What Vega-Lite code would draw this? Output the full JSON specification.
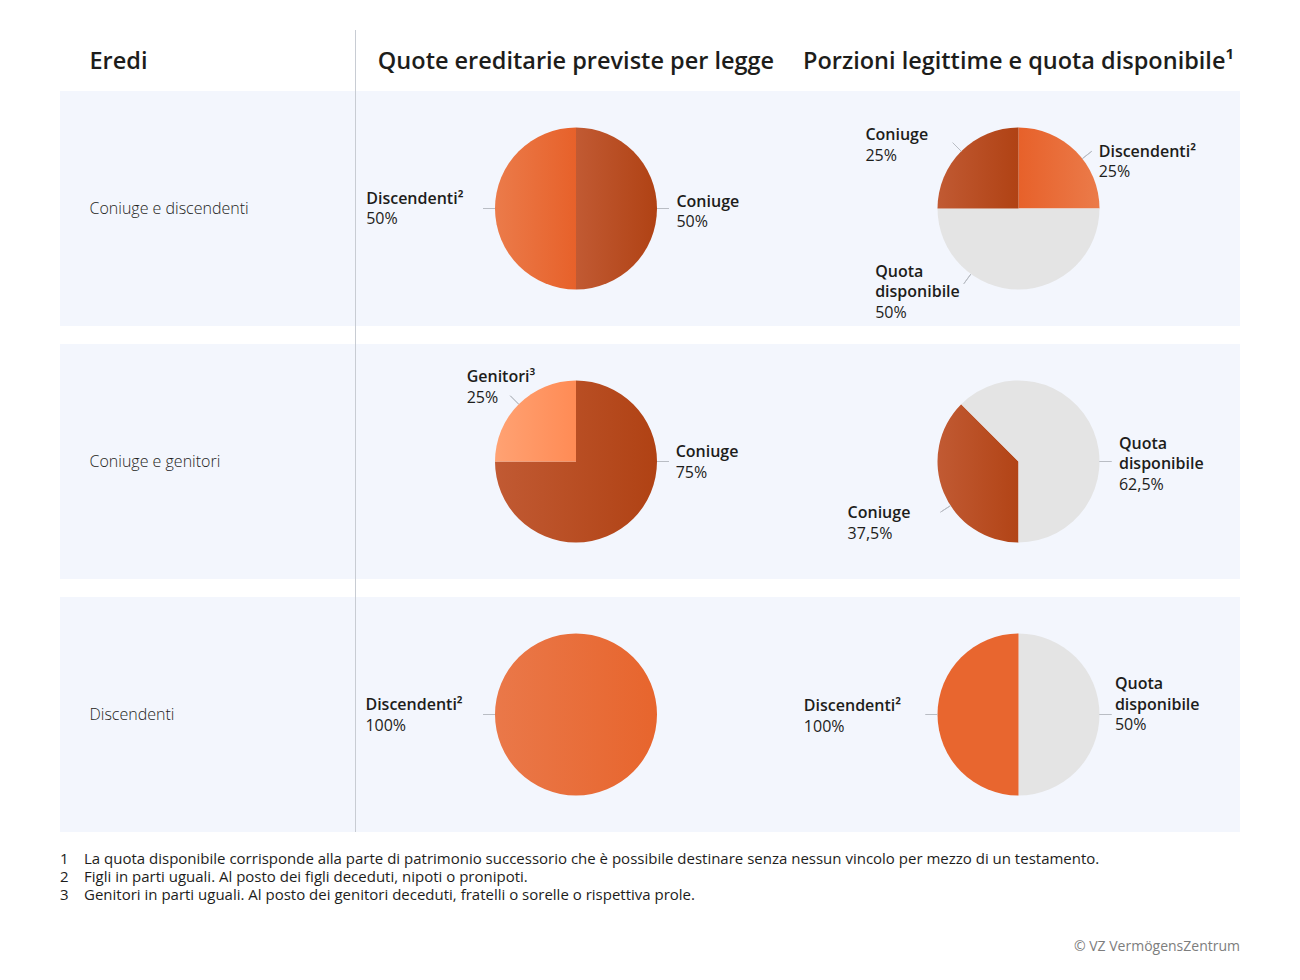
{
  "$schema": "https://vega.github.io/schema/vega-lite/v6.json",
  "background": "white",
  "padding": {"left": 60, "top": 30, "right": 60, "bottom": 0},
  "config": {"view": {"stroke": null}, "font": "Open Sans", "text": {"font": "Open Sans", "color": "#1d1d1b"}},
  "datasets": {
    "titles": [
      {"col": "eredi", "title": "Eredi"},
      {"col": "legge", "title": "Quote ereditarie previste per legge"},
      {"col": "legittime", "title": "Porzioni legittime e quota disponibile¹"}
    ],
    "heirs": [
      {"row": 1, "label": "Coniuge e discendenti"},
      {"row": 2, "label": "Coniuge e genitori"},
      {"row": 3, "label": "Discendenti"}
    ],
    "slices": [
      {"row": 1, "panel": "legge", "heir": "Coniuge", "value": 50},
      {"row": 1, "panel": "legge", "heir": "Discendenti", "value": 50},
      {"row": 1, "panel": "legittime", "heir": "Discendenti", "value": 25},
      {"row": 1, "panel": "legittime", "heir": "Quota disponibile", "value": 50},
      {"row": 1, "panel": "legittime", "heir": "Coniuge", "value": 25},
      {"row": 2, "panel": "legge", "heir": "Coniuge", "value": 75},
      {"row": 2, "panel": "legge", "heir": "Genitori", "value": 25},
      {"row": 2, "panel": "legittime", "heir": "Coniuge", "value": 37.5},
      {"row": 2, "panel": "legittime", "heir": "Quota disponibile", "value": 62.5},
      {"row": 3, "panel": "legge", "heir": "Discendenti", "value": 100},
      {"row": 3, "panel": "legittime", "heir": "Quota disponibile", "value": 50},
      {"row": 3, "panel": "legittime", "heir": "Discendenti", "value": 50}
    ],
    "labels": [
      {"row": 1, "panel": "legge", "name": "Discendenti²", "pct": "50%", "angle": 270, "lx": -2.59, "ly": -0.06},
      {"row": 1, "panel": "legge", "name": "Coniuge", "pct": "50%", "angle": 90, "lx": 1.24, "ly": -0.02},
      {"row": 1, "panel": "legittime", "name": "Coniuge", "pct": "25%", "angle": 315, "lx": -1.89, "ly": -0.84},
      {"row": 1, "panel": "legittime", "name": "Discendenti²", "pct": "25%", "angle": 52, "lx": 0.99, "ly": -0.64},
      {"row": 1, "panel": "legittime", "name": "Quota|disponibile", "pct": "50%", "angle": 216, "lx": -1.77, "ly": 0.84},
      {"row": 2, "panel": "legge", "name": "Genitori³", "pct": "25%", "angle": 315, "lx": -1.35, "ly": -0.98},
      {"row": 2, "panel": "legge", "name": "Coniuge", "pct": "75%", "angle": 90, "lx": 1.23, "ly": -0.05},
      {"row": 2, "panel": "legittime", "name": "Quota|disponibile", "pct": "62,5%", "angle": 90, "lx": 1.24, "ly": -0.16},
      {"row": 2, "panel": "legittime", "name": "Coniuge", "pct": "37,5%", "angle": 237, "lx": -2.11, "ly": 0.7},
      {"row": 3, "panel": "legge", "name": "Discendenti²", "pct": "100%", "angle": 270, "lx": -2.6, "ly": -0.05},
      {"row": 3, "panel": "legittime", "name": "Discendenti²", "pct": "100%", "angle": 270, "lx": -2.65, "ly": -0.04},
      {"row": 3, "panel": "legittime", "name": "Quota|disponibile", "pct": "50%", "angle": 90, "lx": 1.19, "ly": -0.31}
    ],
    "footnotes": [
      {"num": 1, "text": "La quota disponibile corrisponde alla parte di patrimonio successorio che è possibile destinare senza nessun vincolo per mezzo di un testamento."},
      {"num": 2, "text": "Figli in parti uguali. Al posto dei figli deceduti, nipoti o pronipoti."},
      {"num": 3, "text": "Genitori in parti uguali. Al posto dei genitori deceduti, fratelli o sorelle o rispettiva prole."}
    ]
  },
  "spacing": 0,
  "vconcat": [
    {
      "spacing": 0,
      "hconcat": [
        {
          "width": 295, "height": 61,
          "data": {"name": "titles"},
          "transform": [{"filter": "datum.col === 'eredi'"}],
          "mark": {"type": "text", "align": "left", "baseline": "middle", "fontSize": 23.5, "fontWeight": 600},
          "encoding": {
            "x": {"datum": 0.1, "type": "quantitative", "scale": {"domain": [0, 1], "nice": false}, "axis": null},
            "y": {"datum": 0.47, "type": "quantitative", "scale": {"domain": [0, 1], "nice": false}, "axis": null},
            "text": {"field": "title"}
          }
        },
        {
          "width": 442, "height": 61,
          "layer": [
            {
              "data": {"name": "titles"},
              "transform": [{"filter": "datum.col === 'legge'"}],
              "mark": {"type": "text", "align": "center", "baseline": "middle", "fontSize": 23.5, "fontWeight": 600},
              "encoding": {
                "x": {"datum": 0.5, "type": "quantitative", "scale": {"domain": [0, 1], "nice": false}, "axis": null},
                "y": {"datum": 0.47, "type": "quantitative", "scale": {"domain": [0, 1], "nice": false}, "axis": null},
                "text": {"field": "title"}
              }
            },
            {
              "data": {"values": [{}]},
              "mark": {"type": "rect", "color": "#c8ccd3"},
              "encoding": {
                "x": {"datum": 0, "type": "quantitative", "scale": {"domain": [0, 1], "nice": false}, "axis": null},
                "x2": {"datum": 0.00226},
                "y": {"datum": 0, "type": "quantitative", "scale": {"domain": [0, 1], "nice": false}, "axis": null},
                "y2": {"datum": 1}
              }
            }
          ]
        },
        {
          "width": 443, "height": 61,
          "data": {"name": "titles"},
          "transform": [{"filter": "datum.col === 'legittime'"}],
          "mark": {"type": "text", "align": "center", "baseline": "middle", "fontSize": 23.5, "fontWeight": 600},
          "encoding": {
            "x": {"datum": 0.5, "type": "quantitative", "scale": {"domain": [0, 1], "nice": false}, "axis": null},
            "y": {"datum": 0.47, "type": "quantitative", "scale": {"domain": [0, 1], "nice": false}, "axis": null},
            "text": {"field": "title"}
          }
        }
      ]
    },
    {
      "spacing": 0,
      "hconcat": [
        {
          "width": 295, "height": 235,
          "view": {"fill": "#f3f6fd", "stroke": null},
          "data": {"name": "heirs"},
          "transform": [{"filter": "datum.row === 1"}],
          "mark": {"type": "text", "align": "left", "baseline": "middle", "fontSize": 16, "fontWeight": 300},
          "encoding": {
            "x": {"datum": 0.1, "type": "quantitative", "scale": {"domain": [0, 1], "nice": false}, "axis": null},
            "y": {"datum": 0.5, "type": "quantitative", "scale": {"domain": [0, 1], "nice": false}, "axis": null},
            "text": {"field": "label"}
          }
        },
        {
          "width": 442, "height": 235,
          "view": {"fill": "#f3f6fd", "stroke": null},
          "resolve": {"scale": {"theta": "independent"}},
          "layer": [
            {
              "data": {"name": "slices"},
              "transform": [{"filter": "datum.row === 1 && datum.panel === 'legge'"}],
              "mark": {"type": "arc", "outerRadius": 81},
              "encoding": {
                "theta": {"field": "value", "type": "quantitative", "stack": true, "scale": {"domain": [0, 100], "range": [0, 6.283185]}},
                "color": {
                  "condition": [
                    {"test": "datum.heir === 'Coniuge'", "value": {"gradient": "linear", "x1": 0, "y1": 0, "x2": 1, "y2": 0, "stops": [{"offset": 0, "color": "#c15a33"}, {"offset": 1, "color": "#b04214"}]}},
                    {"test": "datum.heir === 'Discendenti'", "value": {"gradient": "linear", "x1": 0, "y1": 0, "x2": 1, "y2": 0, "stops": [{"offset": 0, "color": "#eb7b4a"}, {"offset": 1, "color": "#e7612a"}]}}
                  ],
                  "value": "#e4e4e4"
                }
              }
            },
            {
              "data": {"name": "labels"},
              "transform": [{"filter": "datum.row === 1 && datum.panel === 'legge'"}],
              "mark": {"type": "arc", "innerRadius": 81, "outerRadius": 93, "filled": false, "color": "#b9bdc4", "strokeWidth": 1},
              "encoding": {
                "theta": {"field": "angle", "type": "quantitative", "scale": {"domain": [0, 360], "range": [0, 6.283185]}},
                "theta2": {"field": "angle"}
              }
            },
            {
              "data": {"name": "labels"},
              "transform": [{"filter": "datum.row === 1 && datum.panel === 'legge'"}],
              "mark": {"type": "text", "align": "left", "baseline": "alphabetic", "fontSize": 16, "fontWeight": 600, "lineBreak": "|", "lineHeight": 20.5},
              "encoding": {
                "x": {"field": "lx", "type": "quantitative", "scale": {"domain": [-2.7284, 2.7284], "nice": false, "zero": false}, "axis": null},
                "y": {"field": "ly", "type": "quantitative", "scale": {"domain": [-1.4506, 1.4506], "nice": false, "zero": false, "reverse": true}, "axis": null},
                "text": {"field": "name"}
              }
            },
            {
              "data": {"name": "labels"},
              "transform": [{"filter": "datum.row === 1 && datum.panel === 'legge'"}],
              "mark": {"type": "text", "align": "left", "baseline": "alphabetic", "fontSize": 16, "fontWeight": 400, "dy": 20.5},
              "encoding": {
                "x": {"field": "lx", "type": "quantitative", "scale": {"domain": [-2.7284, 2.7284], "nice": false, "zero": false}, "axis": null},
                "y": {"field": "ly", "type": "quantitative", "scale": {"domain": [-1.4506, 1.4506], "nice": false, "zero": false, "reverse": true}, "axis": null},
                "text": {"field": "pct"}
              }
            },
            {
              "data": {"values": [{}]},
              "mark": {"type": "rect", "color": "#c8ccd3"},
              "encoding": {
                "x": {"datum": -2.7284, "type": "quantitative", "scale": {"domain": [-2.7284, 2.7284], "nice": false, "zero": false}, "axis": null},
                "x2": {"datum": -2.7161},
                "y": {"datum": -1.4506, "type": "quantitative", "scale": {"domain": [-1.4506, 1.4506], "nice": false, "zero": false, "reverse": true}, "axis": null},
                "y2": {"datum": 1.4506}
              }
            }
          ]
        },
        {
          "width": 443, "height": 235,
          "view": {"fill": "#f3f6fd", "stroke": null},
          "resolve": {"scale": {"theta": "independent"}},
          "layer": [
            {
              "data": {"name": "slices"},
              "transform": [{"filter": "datum.row === 1 && datum.panel === 'legittime'"}],
              "mark": {"type": "arc", "outerRadius": 81},
              "encoding": {
                "theta": {"field": "value", "type": "quantitative", "stack": true, "scale": {"domain": [0, 100], "range": [0, 6.283185]}},
                "color": {
                  "condition": [
                    {"test": "datum.heir === 'Coniuge'", "value": {"gradient": "linear", "x1": 0, "y1": 0, "x2": 1, "y2": 0, "stops": [{"offset": 0, "color": "#c15a33"}, {"offset": 1, "color": "#b04214"}]}},
                    {"test": "datum.heir === 'Discendenti'", "value": {"gradient": "linear", "x1": 0, "y1": 0, "x2": 1, "y2": 0, "stops": [{"offset": 0, "color": "#e7612a"}, {"offset": 1, "color": "#eb7b4a"}]}}
                  ],
                  "value": "#e4e4e4"
                }
              }
            },
            {
              "data": {"name": "labels"},
              "transform": [{"filter": "datum.row === 1 && datum.panel === 'legittime'"}],
              "mark": {"type": "arc", "innerRadius": 81, "outerRadius": 93, "filled": false, "color": "#b9bdc4", "strokeWidth": 1},
              "encoding": {
                "theta": {"field": "angle", "type": "quantitative", "scale": {"domain": [0, 360], "range": [0, 6.283185]}},
                "theta2": {"field": "angle"}
              }
            },
            {
              "data": {"name": "labels"},
              "transform": [{"filter": "datum.row === 1 && datum.panel === 'legittime'"}],
              "mark": {"type": "text", "align": "left", "baseline": "alphabetic", "fontSize": 16, "fontWeight": 600, "lineBreak": "|", "lineHeight": 20.5},
              "encoding": {
                "x": {"field": "lx", "type": "quantitative", "scale": {"domain": [-2.7346, 2.7346], "nice": false, "zero": false}, "axis": null},
                "y": {"field": "ly", "type": "quantitative", "scale": {"domain": [-1.4506, 1.4506], "nice": false, "zero": false, "reverse": true}, "axis": null},
                "text": {"field": "name"}
              }
            },
            {
              "data": {"name": "labels"},
              "transform": [{"filter": "datum.row === 1 && datum.panel === 'legittime' && indexof(datum.name, '|') < 0"}],
              "mark": {"type": "text", "align": "left", "baseline": "alphabetic", "fontSize": 16, "fontWeight": 400, "dy": 20.5},
              "encoding": {
                "x": {"field": "lx", "type": "quantitative", "scale": {"domain": [-2.7346, 2.7346], "nice": false, "zero": false}, "axis": null},
                "y": {"field": "ly", "type": "quantitative", "scale": {"domain": [-1.4506, 1.4506], "nice": false, "zero": false, "reverse": true}, "axis": null},
                "text": {"field": "pct"}
              }
            },
            {
              "data": {"name": "labels"},
              "transform": [{"filter": "datum.row === 1 && datum.panel === 'legittime' && indexof(datum.name, '|') >= 0"}],
              "mark": {"type": "text", "align": "left", "baseline": "alphabetic", "fontSize": 16, "fontWeight": 400, "dy": 41},
              "encoding": {
                "x": {"field": "lx", "type": "quantitative", "scale": {"domain": [-2.7346, 2.7346], "nice": false, "zero": false}, "axis": null},
                "y": {"field": "ly", "type": "quantitative", "scale": {"domain": [-1.4506, 1.4506], "nice": false, "zero": false, "reverse": true}, "axis": null},
                "text": {"field": "pct"}
              }
            }
          ]
        }
      ]
    },
    {
      "width": 1180, "height": 18,
      "data": {"values": [{}]},
      "mark": {"type": "rect", "color": "#c8ccd3"},
      "encoding": {
        "x": {"datum": 0.25, "type": "quantitative", "scale": {"domain": [0, 1], "nice": false}, "axis": null},
        "x2": {"datum": 0.250847},
        "y": {"datum": 0, "type": "quantitative", "scale": {"domain": [0, 1], "nice": false}, "axis": null},
        "y2": {"datum": 1}
      }
    },
    {
      "spacing": 0,
      "hconcat": [
        {
          "width": 295, "height": 235,
          "view": {"fill": "#f3f6fd", "stroke": null},
          "data": {"name": "heirs"},
          "transform": [{"filter": "datum.row === 2"}],
          "mark": {"type": "text", "align": "left", "baseline": "middle", "fontSize": 16, "fontWeight": 300},
          "encoding": {
            "x": {"datum": 0.1, "type": "quantitative", "scale": {"domain": [0, 1], "nice": false}, "axis": null},
            "y": {"datum": 0.5, "type": "quantitative", "scale": {"domain": [0, 1], "nice": false}, "axis": null},
            "text": {"field": "label"}
          }
        },
        {
          "width": 442, "height": 235,
          "view": {"fill": "#f3f6fd", "stroke": null},
          "resolve": {"scale": {"theta": "independent"}},
          "layer": [
            {
              "data": {"name": "slices"},
              "transform": [{"filter": "datum.row === 2 && datum.panel === 'legge'"}],
              "mark": {"type": "arc", "outerRadius": 81},
              "encoding": {
                "theta": {"field": "value", "type": "quantitative", "stack": true, "scale": {"domain": [0, 100], "range": [0, 6.283185]}},
                "color": {
                  "condition": [
                    {"test": "datum.heir === 'Coniuge'", "value": {"gradient": "linear", "x1": 0, "y1": 0, "x2": 1, "y2": 0, "stops": [{"offset": 0, "color": "#c15a33"}, {"offset": 1, "color": "#b04214"}]}},
                    {"test": "datum.heir === 'Genitori'", "value": {"gradient": "linear", "x1": 0, "y1": 0, "x2": 1, "y2": 0, "stops": [{"offset": 0, "color": "#ffa273"}, {"offset": 1, "color": "#ff8b55"}]}}
                  ],
                  "value": "#e4e4e4"
                }
              }
            },
            {
              "data": {"name": "labels"},
              "transform": [{"filter": "datum.row === 2 && datum.panel === 'legge'"}],
              "mark": {"type": "arc", "innerRadius": 81, "outerRadius": 93, "filled": false, "color": "#b9bdc4", "strokeWidth": 1},
              "encoding": {
                "theta": {"field": "angle", "type": "quantitative", "scale": {"domain": [0, 360], "range": [0, 6.283185]}},
                "theta2": {"field": "angle"}
              }
            },
            {
              "data": {"name": "labels"},
              "transform": [{"filter": "datum.row === 2 && datum.panel === 'legge'"}],
              "mark": {"type": "text", "align": "left", "baseline": "alphabetic", "fontSize": 16, "fontWeight": 600, "lineBreak": "|", "lineHeight": 20.5},
              "encoding": {
                "x": {"field": "lx", "type": "quantitative", "scale": {"domain": [-2.7284, 2.7284], "nice": false, "zero": false}, "axis": null},
                "y": {"field": "ly", "type": "quantitative", "scale": {"domain": [-1.4506, 1.4506], "nice": false, "zero": false, "reverse": true}, "axis": null},
                "text": {"field": "name"}
              }
            },
            {
              "data": {"name": "labels"},
              "transform": [{"filter": "datum.row === 2 && datum.panel === 'legge'"}],
              "mark": {"type": "text", "align": "left", "baseline": "alphabetic", "fontSize": 16, "fontWeight": 400, "dy": 20.5},
              "encoding": {
                "x": {"field": "lx", "type": "quantitative", "scale": {"domain": [-2.7284, 2.7284], "nice": false, "zero": false}, "axis": null},
                "y": {"field": "ly", "type": "quantitative", "scale": {"domain": [-1.4506, 1.4506], "nice": false, "zero": false, "reverse": true}, "axis": null},
                "text": {"field": "pct"}
              }
            },
            {
              "data": {"values": [{}]},
              "mark": {"type": "rect", "color": "#c8ccd3"},
              "encoding": {
                "x": {"datum": -2.7284, "type": "quantitative", "scale": {"domain": [-2.7284, 2.7284], "nice": false, "zero": false}, "axis": null},
                "x2": {"datum": -2.7161},
                "y": {"datum": -1.4506, "type": "quantitative", "scale": {"domain": [-1.4506, 1.4506], "nice": false, "zero": false, "reverse": true}, "axis": null},
                "y2": {"datum": 1.4506}
              }
            }
          ]
        },
        {
          "width": 443, "height": 235,
          "view": {"fill": "#f3f6fd", "stroke": null},
          "resolve": {"scale": {"theta": "independent"}},
          "layer": [
            {
              "data": {"name": "slices"},
              "transform": [{"filter": "datum.row === 2 && datum.panel === 'legittime'"}],
              "mark": {"type": "arc", "outerRadius": 81},
              "encoding": {
                "theta": {"field": "value", "type": "quantitative", "stack": true, "scale": {"domain": [0, 100], "range": [3.141593, 9.424778]}},
                "color": {
                  "condition": [
                    {"test": "datum.heir === 'Coniuge'", "value": {"gradient": "linear", "x1": 0, "y1": 0, "x2": 1, "y2": 0, "stops": [{"offset": 0, "color": "#c15a33"}, {"offset": 1, "color": "#b24416"}]}}
                  ],
                  "value": "#e4e4e4"
                }
              }
            },
            {
              "data": {"name": "labels"},
              "transform": [{"filter": "datum.row === 2 && datum.panel === 'legittime'"}],
              "mark": {"type": "arc", "innerRadius": 81, "outerRadius": 93, "filled": false, "color": "#b9bdc4", "strokeWidth": 1},
              "encoding": {
                "theta": {"field": "angle", "type": "quantitative", "scale": {"domain": [0, 360], "range": [0, 6.283185]}},
                "theta2": {"field": "angle"}
              }
            },
            {
              "data": {"name": "labels"},
              "transform": [{"filter": "datum.row === 2 && datum.panel === 'legittime'"}],
              "mark": {"type": "text", "align": "left", "baseline": "alphabetic", "fontSize": 16, "fontWeight": 600, "lineBreak": "|", "lineHeight": 20.5},
              "encoding": {
                "x": {"field": "lx", "type": "quantitative", "scale": {"domain": [-2.7346, 2.7346], "nice": false, "zero": false}, "axis": null},
                "y": {"field": "ly", "type": "quantitative", "scale": {"domain": [-1.4506, 1.4506], "nice": false, "zero": false, "reverse": true}, "axis": null},
                "text": {"field": "name"}
              }
            },
            {
              "data": {"name": "labels"},
              "transform": [{"filter": "datum.row === 2 && datum.panel === 'legittime' && indexof(datum.name, '|') < 0"}],
              "mark": {"type": "text", "align": "left", "baseline": "alphabetic", "fontSize": 16, "fontWeight": 400, "dy": 20.5},
              "encoding": {
                "x": {"field": "lx", "type": "quantitative", "scale": {"domain": [-2.7346, 2.7346], "nice": false, "zero": false}, "axis": null},
                "y": {"field": "ly", "type": "quantitative", "scale": {"domain": [-1.4506, 1.4506], "nice": false, "zero": false, "reverse": true}, "axis": null},
                "text": {"field": "pct"}
              }
            },
            {
              "data": {"name": "labels"},
              "transform": [{"filter": "datum.row === 2 && datum.panel === 'legittime' && indexof(datum.name, '|') >= 0"}],
              "mark": {"type": "text", "align": "left", "baseline": "alphabetic", "fontSize": 16, "fontWeight": 400, "dy": 41},
              "encoding": {
                "x": {"field": "lx", "type": "quantitative", "scale": {"domain": [-2.7346, 2.7346], "nice": false, "zero": false}, "axis": null},
                "y": {"field": "ly", "type": "quantitative", "scale": {"domain": [-1.4506, 1.4506], "nice": false, "zero": false, "reverse": true}, "axis": null},
                "text": {"field": "pct"}
              }
            }
          ]
        }
      ]
    },
    {
      "width": 1180, "height": 18,
      "data": {"values": [{}]},
      "mark": {"type": "rect", "color": "#c8ccd3"},
      "encoding": {
        "x": {"datum": 0.25, "type": "quantitative", "scale": {"domain": [0, 1], "nice": false}, "axis": null},
        "x2": {"datum": 0.250847},
        "y": {"datum": 0, "type": "quantitative", "scale": {"domain": [0, 1], "nice": false}, "axis": null},
        "y2": {"datum": 1}
      }
    },
    {
      "spacing": 0,
      "hconcat": [
        {
          "width": 295, "height": 235,
          "view": {"fill": "#f3f6fd", "stroke": null},
          "data": {"name": "heirs"},
          "transform": [{"filter": "datum.row === 3"}],
          "mark": {"type": "text", "align": "left", "baseline": "middle", "fontSize": 16, "fontWeight": 300},
          "encoding": {
            "x": {"datum": 0.1, "type": "quantitative", "scale": {"domain": [0, 1], "nice": false}, "axis": null},
            "y": {"datum": 0.5, "type": "quantitative", "scale": {"domain": [0, 1], "nice": false}, "axis": null},
            "text": {"field": "label"}
          }
        },
        {
          "width": 442, "height": 235,
          "view": {"fill": "#f3f6fd", "stroke": null},
          "resolve": {"scale": {"theta": "independent"}},
          "layer": [
            {
              "data": {"name": "slices"},
              "transform": [{"filter": "datum.row === 3 && datum.panel === 'legge'"}],
              "mark": {"type": "arc", "outerRadius": 81},
              "encoding": {
                "theta": {"field": "value", "type": "quantitative", "stack": true, "scale": {"domain": [0, 100], "range": [0, 6.283185]}},
                "color": {
                  "condition": [
                    {"test": "datum.heir === 'Discendenti'", "value": {"gradient": "linear", "x1": 0, "y1": 0, "x2": 1, "y2": 0, "stops": [{"offset": 0, "color": "#ea7849"}, {"offset": 1, "color": "#e7652d"}]}}
                  ],
                  "value": "#e4e4e4"
                }
              }
            },
            {
              "data": {"name": "labels"},
              "transform": [{"filter": "datum.row === 3 && datum.panel === 'legge'"}],
              "mark": {"type": "arc", "innerRadius": 81, "outerRadius": 93, "filled": false, "color": "#b9bdc4", "strokeWidth": 1},
              "encoding": {
                "theta": {"field": "angle", "type": "quantitative", "scale": {"domain": [0, 360], "range": [0, 6.283185]}},
                "theta2": {"field": "angle"}
              }
            },
            {
              "data": {"name": "labels"},
              "transform": [{"filter": "datum.row === 3 && datum.panel === 'legge'"}],
              "mark": {"type": "text", "align": "left", "baseline": "alphabetic", "fontSize": 16, "fontWeight": 600, "lineBreak": "|", "lineHeight": 20.5},
              "encoding": {
                "x": {"field": "lx", "type": "quantitative", "scale": {"domain": [-2.7284, 2.7284], "nice": false, "zero": false}, "axis": null},
                "y": {"field": "ly", "type": "quantitative", "scale": {"domain": [-1.4506, 1.4506], "nice": false, "zero": false, "reverse": true}, "axis": null},
                "text": {"field": "name"}
              }
            },
            {
              "data": {"name": "labels"},
              "transform": [{"filter": "datum.row === 3 && datum.panel === 'legge'"}],
              "mark": {"type": "text", "align": "left", "baseline": "alphabetic", "fontSize": 16, "fontWeight": 400, "dy": 20.5},
              "encoding": {
                "x": {"field": "lx", "type": "quantitative", "scale": {"domain": [-2.7284, 2.7284], "nice": false, "zero": false}, "axis": null},
                "y": {"field": "ly", "type": "quantitative", "scale": {"domain": [-1.4506, 1.4506], "nice": false, "zero": false, "reverse": true}, "axis": null},
                "text": {"field": "pct"}
              }
            },
            {
              "data": {"values": [{}]},
              "mark": {"type": "rect", "color": "#c8ccd3"},
              "encoding": {
                "x": {"datum": -2.7284, "type": "quantitative", "scale": {"domain": [-2.7284, 2.7284], "nice": false, "zero": false}, "axis": null},
                "x2": {"datum": -2.7161},
                "y": {"datum": -1.4506, "type": "quantitative", "scale": {"domain": [-1.4506, 1.4506], "nice": false, "zero": false, "reverse": true}, "axis": null},
                "y2": {"datum": 1.4506}
              }
            }
          ]
        },
        {
          "width": 443, "height": 235,
          "view": {"fill": "#f3f6fd", "stroke": null},
          "resolve": {"scale": {"theta": "independent"}},
          "layer": [
            {
              "data": {"name": "slices"},
              "transform": [{"filter": "datum.row === 3 && datum.panel === 'legittime'"}],
              "mark": {"type": "arc", "outerRadius": 81},
              "encoding": {
                "theta": {"field": "value", "type": "quantitative", "stack": true, "scale": {"domain": [0, 100], "range": [0, 6.283185]}},
                "color": {
                  "condition": [
                    {"test": "datum.heir === 'Discendenti'", "value": "#e8662f"}
                  ],
                  "value": "#e4e4e4"
                }
              }
            },
            {
              "data": {"name": "labels"},
              "transform": [{"filter": "datum.row === 3 && datum.panel === 'legittime'"}],
              "mark": {"type": "arc", "innerRadius": 81, "outerRadius": 93, "filled": false, "color": "#b9bdc4", "strokeWidth": 1},
              "encoding": {
                "theta": {"field": "angle", "type": "quantitative", "scale": {"domain": [0, 360], "range": [0, 6.283185]}},
                "theta2": {"field": "angle"}
              }
            },
            {
              "data": {"name": "labels"},
              "transform": [{"filter": "datum.row === 3 && datum.panel === 'legittime'"}],
              "mark": {"type": "text", "align": "left", "baseline": "alphabetic", "fontSize": 16, "fontWeight": 600, "lineBreak": "|", "lineHeight": 20.5},
              "encoding": {
                "x": {"field": "lx", "type": "quantitative", "scale": {"domain": [-2.7346, 2.7346], "nice": false, "zero": false}, "axis": null},
                "y": {"field": "ly", "type": "quantitative", "scale": {"domain": [-1.4506, 1.4506], "nice": false, "zero": false, "reverse": true}, "axis": null},
                "text": {"field": "name"}
              }
            },
            {
              "data": {"name": "labels"},
              "transform": [{"filter": "datum.row === 3 && datum.panel === 'legittime' && indexof(datum.name, '|') < 0"}],
              "mark": {"type": "text", "align": "left", "baseline": "alphabetic", "fontSize": 16, "fontWeight": 400, "dy": 20.5},
              "encoding": {
                "x": {"field": "lx", "type": "quantitative", "scale": {"domain": [-2.7346, 2.7346], "nice": false, "zero": false}, "axis": null},
                "y": {"field": "ly", "type": "quantitative", "scale": {"domain": [-1.4506, 1.4506], "nice": false, "zero": false, "reverse": true}, "axis": null},
                "text": {"field": "pct"}
              }
            },
            {
              "data": {"name": "labels"},
              "transform": [{"filter": "datum.row === 3 && datum.panel === 'legittime' && indexof(datum.name, '|') >= 0"}],
              "mark": {"type": "text", "align": "left", "baseline": "alphabetic", "fontSize": 16, "fontWeight": 400, "dy": 41},
              "encoding": {
                "x": {"field": "lx", "type": "quantitative", "scale": {"domain": [-2.7346, 2.7346], "nice": false, "zero": false}, "axis": null},
                "y": {"field": "ly", "type": "quantitative", "scale": {"domain": [-1.4506, 1.4506], "nice": false, "zero": false, "reverse": true}, "axis": null},
                "text": {"field": "pct"}
              }
            }
          ]
        }
      ]
    },
    {
      "width": 1180, "height": 90,
      "data": {"name": "footnotes"},
      "layer": [
        {
          "mark": {"type": "text", "align": "left", "baseline": "middle", "fontSize": 15},
          "encoding": {
            "x": {"datum": 0, "type": "quantitative", "scale": {"domain": [0, 1], "nice": false}, "axis": null},
            "y": {"field": "num", "type": "quantitative", "axis": null, "scale": {"domain": [-0.5, 4.5], "nice": false, "zero": false, "reverse": true}},
            "text": {"field": "num"}
          }
        },
        {
          "mark": {"type": "text", "align": "left", "baseline": "middle", "fontSize": 15, "dx": 24},
          "encoding": {
            "x": {"datum": 0, "type": "quantitative", "scale": {"domain": [0, 1], "nice": false}, "axis": null},
            "y": {"field": "num", "type": "quantitative", "axis": null, "scale": {"domain": [-0.5, 4.5], "nice": false, "zero": false, "reverse": true}},
            "text": {"field": "text"}
          }
        }
      ]
    },
    {
      "width": 1180, "height": 50,
      "data": {"values": [{"t": "© VZ VermögensZentrum"}]},
      "mark": {"type": "text", "align": "right", "baseline": "middle", "fontSize": 14, "color": "#7d7d7d"},
      "encoding": {
        "x": {"datum": 1, "type": "quantitative", "scale": {"domain": [0, 1], "nice": false}, "axis": null},
        "y": {"datum": 0.5, "type": "quantitative", "scale": {"domain": [0, 1], "nice": false}, "axis": null},
        "text": {"field": "t"}
      }
    }
  ]
}
